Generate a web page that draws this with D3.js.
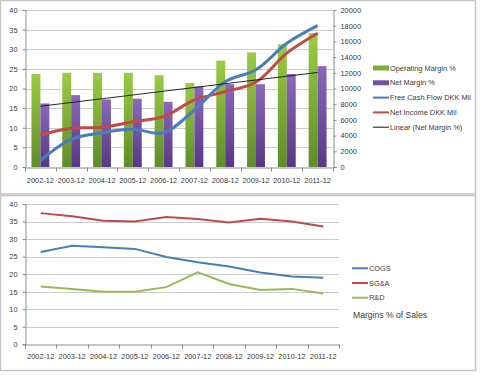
<!DOCTYPE html>
<html><head><meta charset="utf-8">
<script src="https://cdn.jsdelivr.net/npm/d3@7"></script>
<style>body{margin:0;background:#fff}svg{display:block;font-family:"Liberation Sans",Arial,sans-serif}</style>
</head><body><svg id="c" width="480" height="375"></svg>
<script>
const categories = ["2002-12","2003-12","2004-12","2005-12","2006-12","2007-12","2008-12","2009-12","2010-12","2011-12"];
const operatingMargin = [23.7,24.0,24.0,24.0,23.4,21.4,27.1,29.2,31.3,34.1];
const netMargin = [16.2,18.3,17.2,17.4,16.6,20.5,21.1,21.1,23.7,25.7];
const freeCashFlow = [850,3530,4370,4800,4370,7260,10870,12390,15760,18010];
const netIncome = [4080,4930,5060,5770,6410,8540,9590,10820,14500,17030];
const leftTicks = [0,5,10,15,20,25,30,35,40];
const rightTicks = [0,2000,4000,6000,8000,10000,12000,14000,16000,18000,20000];
const cogs = [26.3,28.1,27.7,27.2,24.9,23.4,22.2,20.5,19.3,19.0];
const sga = [37.4,36.5,35.2,35.0,36.3,35.7,34.7,35.8,35.0,33.6];
const rnd = [16.5,15.8,15.0,15.0,16.3,20.5,17.2,15.5,15.8,14.5];

const svg = d3.select("#c");
const TXT = "#3a3a3a", AX = "#8c8c8c", GRID = "#cdcdcd";
const BLUE = "#4a7ebb", RED = "#be4b48", GREEN = "#98b954";
const FS = 7.4;

svg.append("rect").attr("width",480).attr("height",375).attr("fill","#fff");
svg.append("rect").attr("x",0.5).attr("y",0.5).attr("width",475).attr("height",193.5).attr("fill","none").attr("stroke","#c4c4c4").attr("stroke-width",1.5);
svg.append("rect").attr("x",0.5).attr("y",195.5).attr("width",475).attr("height",175).attr("fill","none").attr("stroke","#c4c4c4").attr("stroke-width",1.5);

const defs = svg.append("defs");
function grad(id, c1, c2){
  const g = defs.append("linearGradient").attr("id",id).attr("x1",0).attr("y1",0).attr("x2",0).attr("y2",1);
  g.append("stop").attr("offset","0%").attr("stop-color",c1);
  g.append("stop").attr("offset","100%").attr("stop-color",c2);
}
grad("gGreen","#9ccb45","#5f8c2a");
grad("gPurple","#8b68ba","#583884");

// ---------- TOP CHART ----------
const x = d3.scaleBand().domain(categories).range([25,333]);
const yL = d3.scaleLinear().domain([0,40]).range([167,10]);
const yR = d3.scaleLinear().domain([0,20000]).range([167,10]);
const topG = svg.append("g");

topG.append("g").selectAll("line").data(leftTicks.filter(d=>d>0)).join("line")
  .attr("x1",25).attr("x2",333).attr("y1",d=>Math.round(yL(d))+0.5).attr("y2",d=>Math.round(yL(d))+0.5)
  .attr("stroke",GRID).attr("stroke-width",1);

const sub = d3.scaleBand().domain(["op","net"]).range([x.bandwidth()*0.21, x.bandwidth()*0.79]);
const bars = topG.append("g");
bars.selectAll("rect.op").data(categories).join("rect").attr("class","op")
  .attr("x",(d)=>x(d)+sub("op")).attr("width",sub.bandwidth())
  .attr("y",(d,i)=>yL(operatingMargin[i])).attr("height",(d,i)=>yL(0)-yL(operatingMargin[i]))
  .attr("fill","url(#gGreen)");
bars.selectAll("rect.net").data(categories).join("rect").attr("class","net")
  .attr("x",(d)=>x(d)+sub("net")).attr("width",sub.bandwidth())
  .attr("y",(d,i)=>yL(netMargin[i])).attr("height",(d,i)=>yL(0)-yL(netMargin[i]))
  .attr("fill","url(#gPurple)");

const cx = d=>x(d)+x.bandwidth()/2;
const lineR = arr => d3.line().x((d,i)=>cx(categories[i])).y(d=>yR(d)).curve(d3.curveCatmullRom.alpha(0.5))(arr);
topG.append("path").attr("d",lineR(netIncome)).attr("fill","none").attr("stroke",RED).attr("stroke-width",3);
topG.append("path").attr("d",lineR(freeCashFlow)).attr("fill","none").attr("stroke",BLUE).attr("stroke-width",3);

const n = netMargin.length, mx = (n-1)/2, my = d3.mean(netMargin);
const slope = d3.sum(netMargin,(v,i)=>(i-mx)*(v-my))/d3.sum(netMargin,(v,i)=>(i-mx)*(i-mx));
const icpt = my - slope*mx;
topG.append("line").attr("x1",cx(categories[0])).attr("x2",cx(categories[n-1]))
  .attr("y1",yL(icpt)).attr("y2",yL(icpt+slope*(n-1))).attr("stroke","#111").attr("stroke-width",0.9);

const axL = topG.append("g").attr("transform","translate(25.5,0)")
  .call(d3.axisLeft(yL).tickValues(leftTicks).tickSize(3).tickPadding(5));
const axR = topG.append("g").attr("transform","translate(333.5,0)")
  .call(d3.axisRight(yR).tickValues(rightTicks).tickFormat(d3.format("d")).tickSize(3).tickPadding(4));
const axB = topG.append("g").attr("transform","translate(0,167.5)")
  .call(d3.axisBottom(x).tickSize(0).tickPadding(10));
topG.append("g").selectAll("line").data(d3.range(categories.length+1)).join("line")
  .attr("x1",i=>Math.round(25+i*x.step())+0.5).attr("x2",i=>Math.round(25+i*x.step())+0.5)
  .attr("y1",167.5).attr("y2",171.5).attr("stroke",AX);
[axL,axR,axB].forEach(a=>{
  a.select(".domain").attr("stroke",AX);
  a.selectAll(".tick line").attr("stroke",AX);
  a.selectAll("text").attr("fill",TXT).attr("font-size",FS);
});

const lg = topG.append("g").attr("font-size",FS).attr("fill",TXT);
const lgItems = [
  {t:"Operating Margin %",type:"bar",c2:"#7fae38"},
  {t:"Net Margin %",type:"bar",c2:"#7452a3"},
  {t:"Free Cash Flow DKK Mil",type:"line",c:BLUE,w:2},
  {t:"Net Income DKK Mil",type:"line",c:RED,w:2},
  {t:"Linear (Net Margin %)",type:"line",c:"#111",w:1}
];
lgItems.forEach((d,i)=>{
  const yy = 68 + i*14.8;
  if(d.type==="bar") lg.append("rect").attr("x",373).attr("y",yy-2.5).attr("width",16).attr("height",5).attr("fill",d.c2);
  else lg.append("line").attr("x1",373).attr("x2",389).attr("y1",yy).attr("y2",yy).attr("stroke",d.c).attr("stroke-width",d.w);
  lg.append("text").attr("x",390).attr("y",yy).attr("dy","0.35em").attr("fill",TXT).text(d.t);
});

// ---------- BOTTOM CHART ----------
const x2 = d3.scaleBand().domain(categories).range([25,339]);
const y2 = d3.scaleLinear().domain([0,40]).range([344.3,204]);
const bot = svg.append("g");
bot.append("g").selectAll("line").data(leftTicks.filter(d=>d>0)).join("line")
  .attr("x1",25).attr("x2",339).attr("y1",d=>Math.round(y2(d))+0.5).attr("y2",d=>Math.round(y2(d))+0.5)
  .attr("stroke",GRID).attr("stroke-width",1);
const cx2 = d=>x2(d)+x2.bandwidth()/2;
const line2 = d3.line().x((d,i)=>cx2(categories[i])).y(d=>y2(d));
[[sga,RED],[cogs,BLUE],[rnd,GREEN]].forEach(([arr,c])=>{
  bot.append("path").attr("d",line2(arr)).attr("fill","none").attr("stroke",c).attr("stroke-width",2);
});
const bL = bot.append("g").attr("transform","translate(25.5,0)")
  .call(d3.axisLeft(y2).tickValues(leftTicks).tickSize(3).tickPadding(5));
const bB = bot.append("g").attr("transform","translate(0,344.5)")
  .call(d3.axisBottom(x2).tickSize(0).tickPadding(9));
bot.append("g").selectAll("line").data(d3.range(categories.length+1)).join("line")
  .attr("x1",i=>Math.round(25+i*x2.step())+0.5).attr("x2",i=>Math.round(25+i*x2.step())+0.5)
  .attr("y1",344.5).attr("y2",348.5).attr("stroke",AX);
[bL,bB].forEach(a=>{
  a.select(".domain").attr("stroke",AX);
  a.selectAll(".tick line").attr("stroke",AX);
  a.selectAll("text").attr("fill",TXT).attr("font-size",FS);
});
const lg2 = bot.append("g").attr("font-size",FS);
[["COGS",BLUE],["SG&A",RED],["R&D",GREEN]].forEach(([t,c],i)=>{
  const yy = 268.3 + i*14.7;
  lg2.append("line").attr("x1",352).attr("x2",368).attr("y1",yy).attr("y2",yy).attr("stroke",c).attr("stroke-width",2);
  lg2.append("text").attr("x",369).attr("y",yy).attr("dy","0.35em").attr("fill",TXT).text(t);
});
bot.append("text").attr("x",353).attr("y",314.5).attr("dy","0.35em").attr("font-size",8.6).attr("fill",TXT).text("Margins % of Sales");
</script></body></html>
